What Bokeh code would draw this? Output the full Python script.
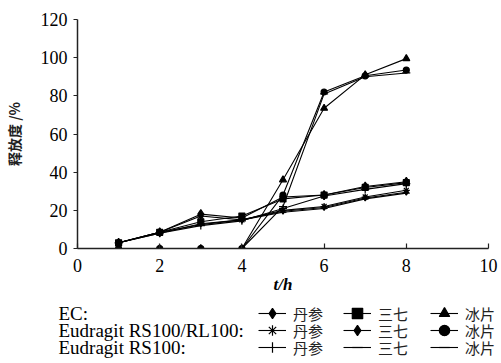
from bokeh.plotting import figure
from bokeh.models import Range1d, Legend, LegendItem, Label
from bokeh.embed import file_html
from bokeh.resources import INLINE

t = [1, 2, 3, 4, 5, 6, 7, 8]
ec_danshen = [3, 8.5, 18, 16, 27, 28, 32.5, 35]
ec_sanqi = [3, 8.5, 14, 17, 26, 28, 32, 34.5]
ec_bingpian = [0, 0, 0, 0, 36, 73.5, 91, 99.5]
rsrl_danshen = [3, 8.5, 17, 15, 20, 22, 27, 30.5]
rsrl_sanqi = [3, 8, 13, 15, 19.5, 21.5, 26.5, 29.5]
rsrl_bingpian = [0, 0, 0, 0, 28, 82, 90.5, 93.5]
rs_danshen = [3, 8, 12, 14.5, 21, 27.5, 31, 34]
rs_sanqi = [3, 8.5, 12.5, 15, 19, 21, 26, 29]
rs_bingpian = [0, 0, 0, 0, 22, 81, 90, 92]

row_labels = ["EC:", "Eudragit RS100/RL100:", "Eudragit RS100:"]
drug_labels = ["丹参", "三七", "冰片"]
x_ticks = [0, 2, 4, 6, 8, 10]
y_ticks = [0, 20, 40, 60, 80, 100, 120]

SERIF = "Liberation Serif"
CJK = "Noto Sans CJK SC"

W = 498
PH = 302
p = figure(width=W, height=PH, output_backend="svg", toolbar_location=None,
           x_range=Range1d(0, 10), y_range=Range1d(0, 120),
           min_border_left=74, min_border_right=W - 488, min_border_top=19,
           min_border_bottom=PH - 248)
p.outline_line_color = None
p.grid.visible = False

p.xaxis.ticker = x_ticks
p.yaxis.ticker = y_ticks
p.axis.axis_line_width = 1.5
p.axis.axis_line_color = "#222222"
p.axis.major_tick_line_color = "#222222"
p.axis.major_tick_line_width = 1.2
p.axis.minor_tick_line_color = None
p.axis.major_label_text_font = SERIF
p.axis.major_label_text_font_size = "18px"
p.axis.major_label_text_color = "black"
p.xaxis.major_tick_in = 5
p.xaxis.major_tick_out = 0
p.yaxis.major_tick_in = 0
p.yaxis.major_tick_out = 4
p.xaxis.major_label_standoff = 10
p.yaxis.major_label_standoff = 6

p.xaxis.axis_label = "t/h"
p.xaxis.axis_label_text_font = SERIF
p.xaxis.axis_label_text_font_style = "bold italic"
p.xaxis.axis_label_text_font_size = "17px"
p.xaxis.axis_label_text_color = "black"
p.xaxis.axis_label_standoff = 0
p.yaxis.axis_label = "释放度 /%"
p.yaxis.axis_label_text_font = CJK
p.yaxis.axis_label_text_font_style = "bold"
p.yaxis.axis_label_text_font_size = "14px"
p.yaxis.axis_label_text_color = "#222222"
p.yaxis.axis_label_standoff = 14

series = [
    (ec_danshen, "diamond", 9, "black"),
    (ec_sanqi, "square", 6, "black"),
    (ec_bingpian, "triangle", 7, "black"),
    (rsrl_danshen, "asterisk", 7, None),
    (rsrl_sanqi, "diamond", 6, "black"),
    (rsrl_bingpian, "circle", 6, "black"),
    (rs_danshen, "cross", 8, None),
    (rs_sanqi, "dash", 7, None),
    (rs_bingpian, "dash", 8, None),
]

# legend panel: separate root below the chart (ranges chosen so proxies stay out of view)
QH = 363 - PH
q = figure(width=W, height=QH, output_backend="svg", toolbar_location=None,
           x_range=Range1d(100, 101), y_range=Range1d(100, 101),
           x_axis_type=None, y_axis_type=None,
           min_border_left=0, min_border_right=0, min_border_top=0, min_border_bottom=0)
q.grid.visible = False
q.outline_line_color = None

proxies = []
for vals, marker, size, fill in series:
    p.line(t, vals, line_color="black", line_width=1.1)
    p.scatter(t, vals, marker=marker, size=size, line_color="black",
              fill_color=fill if fill else "black", line_width=1.2)
    ln = q.line(t, vals, line_color="black", line_width=1.1)
    mk = q.scatter(t, vals, marker=marker, size=max(size - 2, 5), line_color="black",
                   fill_color=fill if fill else "black", line_width=1.2)
    proxies.append([ln, mk])

ITEM_H = 26
row_cy = [50, 33, 16]          # row centres, px from bottom of legend panel
col_x = [258, 343, 430]        # glyph start of each legend column, px
for r in range(3):
    for c in range(3):
        lg = Legend(items=[LegendItem(label=drug_labels[c], renderers=proxies[r * 3 + c])],
                    location=(col_x[c], row_cy[r] - ITEM_H / 2), orientation="vertical",
                    border_line_color=None, background_fill_alpha=0, padding=0, margin=0,
                    spacing=0, glyph_width=28, glyph_height=ITEM_H, label_height=ITEM_H,
                    label_standoff=7, label_text_font=CJK, label_text_font_size="15px",
                    label_text_color="#222222")
        q.add_layout(lg, "center")
    q.add_layout(Label(x=58, y=row_cy[r], x_units="screen", y_units="screen",
                       text=row_labels[r], text_font=SERIF, text_font_size="19px",
                       text_baseline="middle", text_color="black"))

open("out.html", "w").write(file_html([p, q], INLINE))
